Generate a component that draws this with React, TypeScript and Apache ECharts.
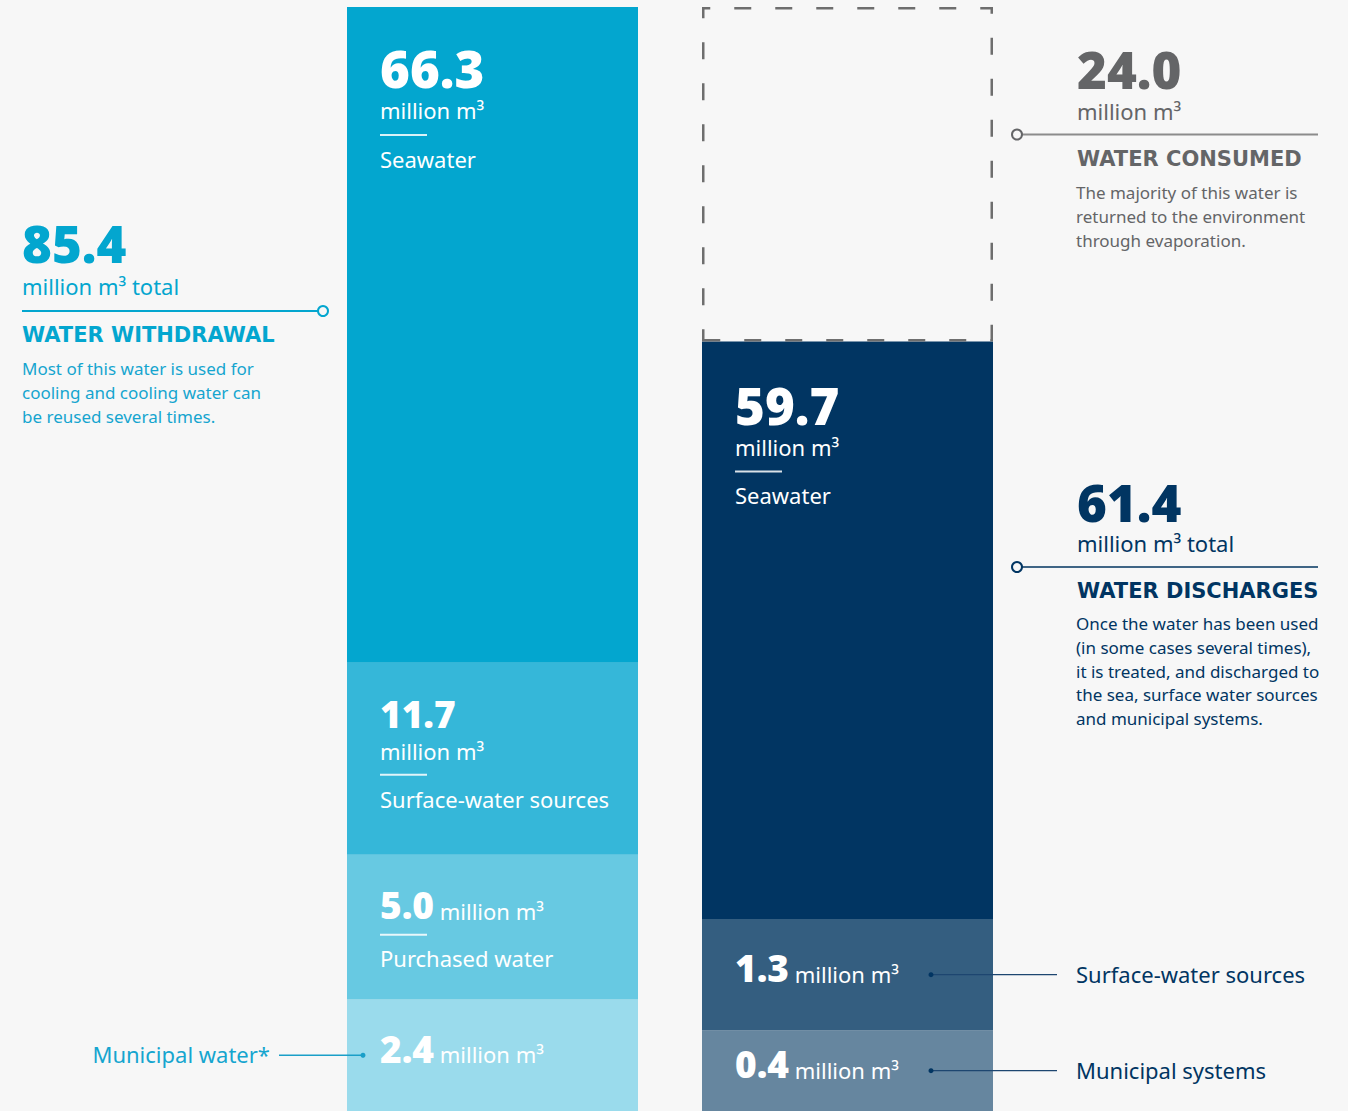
import React, { useEffect, useRef } from 'react';
import * as echarts from 'echarts';

const FONT = "'Noto Sans', 'Open Sans', sans-serif";
const HEAD_FONT = "'DejaVu Sans', 'Noto Sans', sans-serif";
const UNIT = 'million m³';

// ---- data ----
const categories = ['Water withdrawal', 'Water discharges'];

// Water withdrawal, top to bottom of the bar
const withdrawalNames = ['Seawater', 'Surface-water sources', 'Purchased water', 'Municipal water*'];
const withdrawalValues = [66.3, 11.7, 5.0, 2.4];
const withdrawalTotal = 85.4;
// share of the bar height each block is drawn with in the infographic (%, not proportional to value)
const withdrawalDrawnShare = [59.4, 17.4, 13.1, 10.1];

// Water discharges, top to bottom of the bar
const dischargeNames = ['Seawater', 'Surface-water sources', 'Municipal systems'];
const dischargeValues = [59.7, 1.3, 0.4];
const dischargeTotal = 61.4;
const dischargeDrawnShare = [52.3, 10.1, 7.3];

// Water consumed (dashed block above discharges)
const consumedValue = 24.0;
const consumedDrawnShare = 30.3;

const withdrawalText = 'Most of this water is used for\ncooling and cooling water can\nbe reused several times.';
const consumedText = 'The majority of this water is\nreturned to the environment\nthrough evaporation.';
const dischargeText = 'Once the water has been used\n(in some cases several times),\nit is treated, and discharged to\nthe sea, surface water sources\nand municipal systems.';

// ---- styles ----
const BG = '#f7f7f7';
const withdrawalColors = ['#03a6cf', '#35b7d9', '#67c9e2', '#9adbec'];
const dischargeColors = ['#013562', '#345e80', '#66869f'];
const withdrawalLayouts = ['A', 'B', 'C', 'D'];
const dischargeLayouts = ['A', 'D', 'D'];
const CYAN = '#03a6cf';
const GREY = '#646567';
const NAVY = '#013562';
const BAR_W = 291;
const SEP = 'rgba(255,255,255,0.85)';
const NUM_WEIGHT = 900;

const rich: any = {
  numL: { fontFamily: FONT, fontSize: 51, fontWeight: NUM_WEIGHT, color: '#fff', lineHeight: 52 },
  numM: { fontFamily: FONT, fontSize: 37, fontWeight: NUM_WEIGHT, color: '#fff', lineHeight: 44 },
  unit32: { fontFamily: FONT, fontSize: 22, color: '#fff', lineHeight: 32 },
  unit30: { fontFamily: FONT, fontSize: 22, color: '#fff', lineHeight: 30 },
  unitI: { fontFamily: FONT, fontSize: 22, color: '#fff', padding: [12, 0, 0, 0] },
  sep18: { width: 47, height: 2, backgroundColor: SEP, lineHeight: 18 },
  sep16: { width: 47, height: 2, backgroundColor: SEP, lineHeight: 16 },
  name29: { fontFamily: FONT, fontSize: 22, color: '#fff', lineHeight: 29 },
  name30: { fontFamily: FONT, fontSize: 22, color: '#fff', lineHeight: 30 },
};

function segLabel(kind: string, value: number, name: string, side: number) {
  const v = value.toFixed(1);
  if (kind === 'A') {
    return { show: true, position: [33, side === 0 ? 35 : 37], rich,
      formatter: `{numL|${v}}\n{unit32|${UNIT}}\n{sep18|}\n{name29|${name}}` };
  }
  if (kind === 'B') {
    return { show: true, position: [33, 29], rich,
      formatter: `{numM|${v}}\n{unit30|${UNIT}}\n{sep18|}\n{name30|${name}}` };
  }
  if (kind === 'C') {
    return { show: true, position: [33, 28], rich,
      formatter: `{numM|${v}}{unitI| ${UNIT}}\n{sep16|}\n{name30|${name}}` };
  }
  return { show: true, position: 'insideLeft', distance: 33, offset: [0, -7], rich,
    formatter: `{numM|${v}}{unitI| ${UNIT}}` };
}

function buildSeries() {
  const series: any[] = [];
  for (let i = withdrawalValues.length - 1; i >= 0; i--) {
    series.push({
      type: 'bar', stack: 'total', barWidth: BAR_W, name: 'W ' + withdrawalNames[i], silent: true,
      data: [{ value: withdrawalDrawnShare[i], itemStyle: { color: withdrawalColors[i] },
        label: segLabel(withdrawalLayouts[i], withdrawalValues[i], withdrawalNames[i], 0) }, '-'],
    });
  }
  for (let i = dischargeValues.length - 1; i >= 0; i--) {
    series.push({
      type: 'bar', stack: 'total', barWidth: BAR_W, name: 'D ' + dischargeNames[i], silent: true,
      data: ['-', { value: dischargeDrawnShare[i], itemStyle: { color: dischargeColors[i] },
        label: segLabel(dischargeLayouts[i], dischargeValues[i], dischargeNames[i], 1) }],
    });
  }
  series.push({
    type: 'bar', stack: 'total', barWidth: BAR_W, name: 'Water consumed', silent: true,
    data: ['-', { value: consumedDrawnShare, itemStyle: { color: 'rgba(0,0,0,0)', borderColor: '#6e6e6e', borderWidth: 2.5, borderType: [17, 24] } }],
  });
  return series;
}

function txt(text: string, x: number, y: number, size: number, color: string, extra: any = {}) {
  return { type: 'text', x, y, z: 100, silent: true, style: { text, fill: color, fontFamily: extra.family || FONT, fontSize: size, fontWeight: extra.weight || 400, align: extra.align || 'left', verticalAlign: extra.va || 'middle', lineHeight: extra.lh } };
}

export default function App() {
  const ref = useRef<HTMLDivElement>(null);
  useEffect(() => {
    if (!ref.current) return;
    const chart = echarts.init(ref.current, null, { renderer: 'svg' });
    chart.setOption({
      animation: false,
      backgroundColor: BG,
      grid: { left: 315, right: 323, top: 7, bottom: 0 },
      xAxis: { type: 'category', data: categories, show: false },
      yAxis: { type: 'value', min: 0, max: 100, show: false },
      series: buildSeries(),
    });

    const px = (cat: number, v: number) => chart.convertToPixel({ gridIndex: 0 }, [cat, v]) as number[];
    const leftBarL = px(0, 0)[0] - BAR_W / 2;
    const rightBarL = px(1, 0)[0] - BAR_W / 2;
    const rightBarR = rightBarL + BAR_W;

    const yMuniW = px(0, withdrawalDrawnShare[3] / 2)[1];
    const ySurfD = px(1, dischargeDrawnShare[2] + dischargeDrawnShare[1] / 2)[1];
    const yMuniD = px(1, dischargeDrawnShare[2] / 2)[1];

    const line = (x1: number, y1: number, x2: number, y2: number, stroke: string, lw: number) =>
      ({ type: 'line', z: 100, silent: true, shape: { x1, y1, x2, y2 }, style: { stroke, lineWidth: lw } });
    const ring = (cx: number, cy: number, stroke: string) =>
      ({ type: 'circle', z: 101, silent: true, shape: { cx, cy, r: 5 }, style: { fill: BG, stroke, lineWidth: 2 } });
    const dot = (cx: number, cy: number, fill: string) =>
      ({ type: 'circle', z: 101, silent: true, shape: { cx, cy, r: 2.5 }, style: { fill } });

    const g: any[] = [];
    // Water withdrawal annotation
    g.push(txt(withdrawalTotal.toFixed(1), 22, 243, 51, CYAN, { weight: NUM_WEIGHT }));
    g.push(txt(UNIT + ' total', 22, 286, 22, CYAN));
    g.push(line(22, 311, leftBarL - 29, 311, CYAN, 2));
    g.push(ring(leftBarL - 24, 311, CYAN));
    g.push(txt('WATER WITHDRAWAL', 22, 335, 21, CYAN, { weight: 'bold', family: HEAD_FONT }));
    g.push(txt(withdrawalText, 22, 356, 17, '#15a5cf', { va: 'top', lh: 24 }));

    // Municipal water connector
    g.push(txt(withdrawalNames[3], 270, yMuniW - 1, 22, '#15a5cf', { align: 'right' }));
    g.push(line(279, yMuniW, leftBarL + 16, yMuniW, '#1a9fc8', 1.3));
    g.push(dot(leftBarL + 16, yMuniW, '#1a9fc8'));

    // Water consumed annotation
    g.push(txt(consumedValue.toFixed(1), 1077, 68.5, 51, GREY, { weight: NUM_WEIGHT }));
    g.push(txt(UNIT, 1077, 111, 22, GREY));
    g.push(line(rightBarR + 29, 134.5, 1318, 134.5, '#8c8c8c', 2));
    g.push(ring(rightBarR + 24, 134.5, GREY));
    g.push(txt('WATER CONSUMED', 1077, 159, 21, GREY, { weight: 'bold', family: HEAD_FONT }));
    g.push(txt(consumedText, 1076, 180, 17, GREY, { va: 'top', lh: 24 }));

    // Water discharges annotation
    g.push(txt(dischargeTotal.toFixed(1), 1077, 502, 51, NAVY, { weight: NUM_WEIGHT }));
    g.push(txt(UNIT + ' total', 1077, 542.5, 22, NAVY));
    g.push(line(rightBarR + 29, 567, 1318, 567, '#3f6585', 2));
    g.push(ring(rightBarR + 24, 567, NAVY));
    g.push(txt('WATER DISCHARGES', 1077, 590.5, 21, NAVY, { weight: 'bold', family: HEAD_FONT }));
    g.push(txt(dischargeText, 1076, 612, 17, NAVY, { va: 'top', lh: 23.7 }));

    // Discharge connectors
    [[ySurfD, dischargeNames[1]], [yMuniD, dischargeNames[2]]].forEach(([y, name]: any) => {
      g.push(line(rightBarL + 229, y, 1057, y, '#1d4670', 1.3));
      g.push(dot(rightBarL + 229, y, NAVY));
      g.push(txt(name, 1076, y - 1, 22, NAVY));
    });

    chart.setOption({ graphic: { elements: g } });
    return () => chart.dispose();
  }, []);

  return (
    <div
      ref={ref}
      style={{ position: 'fixed', left: 0, top: 0, width: 1348, height: 1111, background: BG }}
    />
  );
}
